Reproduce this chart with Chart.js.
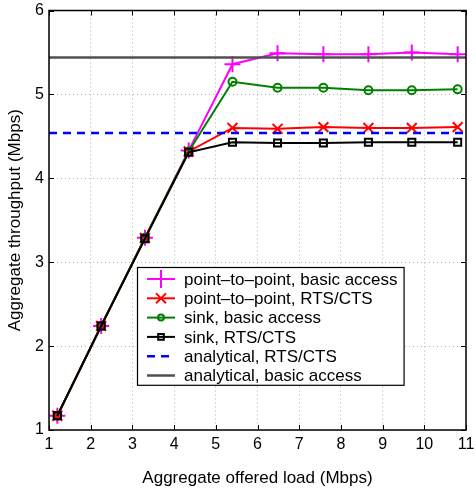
<!DOCTYPE html>
<html>
<head>
<meta charset="utf-8">
<script src="https://cdn.jsdelivr.net/npm/chart.js@4"></script>
<style>
  html, body { margin: 0; padding: 0; background: #fff; }
  #wrap { width: 476px; height: 489px; }
</style>
</head>
<body>
<div id="wrap"><canvas id="myChart"></canvas></div>
<script>
"use strict";
// offered load (Mbps)
const load = [1.2, 2.25, 3.3, 4.35, 5.4, 6.48, 7.58, 8.66, 9.7, 10.8];
const p2pBasic = [1.17, 2.24, 3.29, 4.33, 5.36, 5.49, 5.48, 5.48, 5.5, 5.48];
const p2pRts = [1.17, 2.24, 3.29, 4.32, 4.6, 4.59, 4.61, 4.6, 4.6, 4.61];
const sinkBasic = [1.17, 2.24, 3.29, 4.32, 5.15, 5.08, 5.08, 5.05, 5.05, 5.06];
const sinkRts = [1.17, 2.24, 3.28, 4.31, 4.43, 4.42, 4.42, 4.43, 4.43, 4.43];
const analyticRts = 4.54;
const analyticBasic = 5.44;
const xRange = [1, 11];
const yRange = [1, 6];

const pts = (ys) => load.map((x, i) => ({x: x, y: ys[i]}));
const flat = (v) => xRange.map(x => ({x: x, y: v}));

const FONT = "'Liberation Sans', Arial, sans-serif";

const frame = {
    id: 'frame',
    afterDraw(chart) {
        const c = chart.ctx, a = chart.chartArea;
        const xs = chart.scales.x, ys = chart.scales.y;
        c.save();
        c.strokeStyle = '#000';
        c.lineWidth = 1;
        c.beginPath();
        xs.ticks.forEach(t => {
            const px = Math.round(xs.getPixelForValue(t.value)) + 0.5;
            c.moveTo(px, a.bottom); c.lineTo(px, a.bottom - 5);
            c.moveTo(px, a.top); c.lineTo(px, a.top + 5);
        });
        ys.ticks.forEach(t => {
            const py = Math.round(ys.getPixelForValue(t.value)) + 0.5;
            c.moveTo(a.left, py); c.lineTo(a.left + 5, py);
            c.moveTo(a.right, py); c.lineTo(a.right - 5, py);
        });
        c.stroke();
        c.lineWidth = 1.5;
        c.strokeRect(a.left, a.top, a.right - a.left, a.bottom - a.top);

        // legend box inside the axes
        const order = [0, 1, 2, 3, 4, 5];
        c.font = '17px ' + FONT;
        let w = 0;
        order.forEach(i => { w = Math.max(w, c.measureText(chart.data.datasets[i].label).width); });
        const bx = 137, by = 267, rowH = 19.3;
        const bw = 47 + w + 6, bh = rowH * order.length + 2;
        c.fillStyle = '#fff';
        c.fillRect(bx, by, bw, bh);
        c.lineWidth = 1.2;
        c.strokeStyle = '#000';
        c.strokeRect(bx + 0.5, by + 0.5, bw, bh);
        order.forEach((i, k) => {
            const ds = chart.data.datasets[i];
            const y = by + 12 + k * rowH;
            c.save();
            c.strokeStyle = ds.borderColor;
            c.lineWidth = ds.borderWidth;
            c.setLineDash(ds.borderDash || []);
            c.beginPath();
            c.moveTo(bx + 10, y); c.lineTo(bx + 38, y);
            c.stroke();
            c.setLineDash([]);
            if (ds.pointStyle) {
                c.fillStyle = 'rgba(0,0,0,0)';
                Chart.helpers.drawPoint(c, {
                    pointStyle: ds.pointStyle,
                    radius: ds.legendRadius,
                    borderWidth: ds.borderWidth,
                    rotation: 0
                }, bx + 24, y);
            }
            c.restore();
            c.fillStyle = '#000';
            c.textBaseline = 'middle';
            c.fillText(ds.label, bx + 47, y + 1);
        });
        c.restore();
    }
};

const ctx = document.getElementById('myChart');
var myChart = new Chart(ctx, {
    type: 'line',
    data: {
        datasets: [
            {
                label: 'point–to–point, basic access',
                data: pts(p2pBasic),
                borderColor: '#ff00ff',
                backgroundColor: '#ff00ff',
                borderWidth: 2,
                pointStyle: 'cross',
                pointRadius: 8,
                legendRadius: 9,
                order: 6
            },
            {
                label: 'point–to–point, RTS/CTS',
                data: pts(p2pRts),
                borderColor: '#ff0000',
                backgroundColor: '#ff0000',
                borderWidth: 2,
                pointStyle: 'crossRot',
                pointRadius: 7,
                legendRadius: 7,
                order: 5
            },
            {
                label: 'sink, basic access',
                data: pts(sinkBasic),
                borderColor: '#008000',
                backgroundColor: 'rgba(0,0,0,0)',
                borderWidth: 2,
                pointStyle: 'circle',
                pointRadius: 4,
                legendRadius: 3,
                order: 4
            },
            {
                label: 'sink, RTS/CTS',
                data: pts(sinkRts),
                borderColor: '#000000',
                backgroundColor: 'rgba(0,0,0,0)',
                borderWidth: 2,
                pointStyle: 'rect',
                pointRadius: 5,
                legendRadius: 4,
                order: 1
            },
            {
                label: 'analytical, RTS/CTS',
                data: flat(analyticRts),
                borderColor: '#0000ff',
                borderWidth: 2.5,
                borderDash: [8, 6],
                pointRadius: 0,
                order: 3
            },
            {
                label: 'analytical, basic access',
                data: flat(analyticBasic),
                borderColor: '#505050',
                borderWidth: 2.5,
                pointRadius: 0,
                order: 2
            }
        ]
    },
    plugins: [frame],
    options: {
        responsive: true,
        maintainAspectRatio: false,
        animation: false,
        layout: { padding: { top: 10.5, right: 7, left: 0, bottom: 0 } },
        plugins: {
            legend: { display: false },
            tooltip: { enabled: false }
        },
        scales: {
            x: {
                type: 'linear',
                min: xRange[0],
                max: xRange[1],
                ticks: { stepSize: 1, color: '#000', font: { family: FONT, size: 16 }, padding: 5, maxRotation: 0 },
                grid: { color: '#b0b0b0', drawTicks: false, lineWidth: 1 },
                border: { display: false, dash: [1, 3] },
                title: { display: true, text: 'Aggregate offered load (Mbps)', color: '#000', font: { family: FONT, size: 17 }, padding: { top: 2, bottom: 0 } },
                afterFit: s => { s.height = 59; s.paddingLeft = 0; s.paddingRight = 0; }
            },
            y: {
                type: 'linear',
                min: yRange[0],
                max: yRange[1],
                ticks: { stepSize: 1, color: '#000', font: { family: FONT, size: 16 }, padding: 5 },
                grid: { color: '#b0b0b0', drawTicks: false, lineWidth: 1 },
                border: { display: false, dash: [1, 3] },
                title: { display: true, text: 'Aggregate throughput (Mbps)', color: '#000', font: { family: FONT, size: 17 }, padding: { top: 5, bottom: 0 } },
                afterFit: s => { s.width = 49; s.paddingTop = 0; s.paddingBottom = 0; }
            }
        }
    }
});
</script>
</body>
</html>
